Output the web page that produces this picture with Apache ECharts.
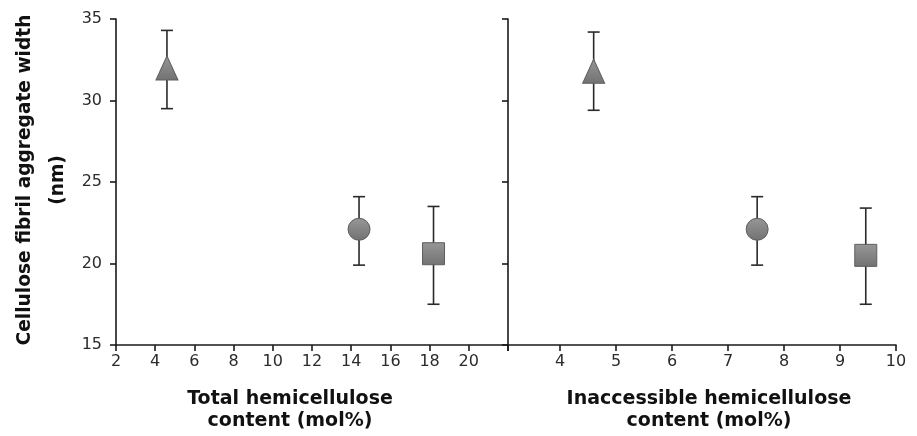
<!DOCTYPE html>
<html>
<head>
<meta charset="utf-8">
<script src="https://cdn.jsdelivr.net/npm/echarts@6/dist/echarts.min.js"></script>
<style>html,body{margin:0;padding:0;background:#fff}#c{width:917px;height:436px}</style>
</head>
<body>
<div id="c"></div>
<script>
// Data
var symbols = ['triangle', 'circle', 'rect'];
var xTotal = [4.6, 14.4, 18.2];
var yTotal = [32.0, 22.1, 20.6];
var lowTotal = [29.5, 19.9, 17.5];
var highTotal = [34.3, 24.1, 23.5];
var xInacc = [4.6, 7.52, 9.46];
var yInacc = [31.8, 22.1, 20.5];
var lowInacc = [29.4, 19.9, 17.5];
var highInacc = [34.2, 24.1, 23.4];
var yTicks = [15, 20, 25, 30, 35];
var xTicksInacc = [4, 5, 6, 7, 8, 9, 10];

var FONT = 'DejaVu Sans, Verdana, sans-serif';
var axisCol = '#1a1a1a';
var symSizes = {triangle: [22, 24], circle: 22, rect: 22};

function pts(xs, ys) {
  return xs.map(function (x, i) {
    return {value: [x, ys[i]], symbol: symbols[i], symbolSize: symSizes[symbols[i]]};
  });
}
function errData(xs, lo, hi) {
  return xs.map(function (x, i) { return [x, lo[i], hi[i]]; });
}
function errRender(params, api) {
  var x = api.value(0);
  var p1 = api.coord([x, api.value(1)]);
  var p2 = api.coord([x, api.value(2)]);
  var w = 6;
  var st = {stroke: '#2a2a2a', lineWidth: 1.6};
  return {
    type: 'group',
    children: [
      {type: 'line', shape: {x1: p1[0], y1: p1[1], x2: p2[0], y2: p2[1]}, style: st},
      {type: 'line', shape: {x1: p1[0] - w, y1: p1[1], x2: p1[0] + w, y2: p1[1]}, style: st},
      {type: 'line', shape: {x1: p2[0] - w, y1: p2[1], x2: p2[0] + w, y2: p2[1]}, style: st}
    ]
  };
}
var markerStyle = {
  color: {type: 'linear', x: 0, y: 0, x2: 0, y2: 1,
    colorStops: [{offset: 0, color: '#979797'}, {offset: 1, color: '#727272'}]},
  borderColor: '#5e5e5e',
  borderWidth: 1,
  opacity: 1
};
var axisLineCfg = {show: true, onZero: false, lineStyle: {color: axisCol, width: 1.6}};
var tickCfg = {show: true, inside: false, length: 6, lineStyle: {color: axisCol, width: 1.6}};
var labelStyle = {color: '#2b2b2b', fontSize: 16, fontFamily: FONT};
var nameStyle = {color: '#111', fontSize: 19, fontWeight: 'bold', fontFamily: FONT, lineHeight: 22};

var option = {
  animation: false,
  backgroundColor: '#fff',
  grid: [
    {left: 116, width: 392, top: 19, height: 326, outerBoundsMode: 'none', containLabel: false},
    {left: 508, width: 388, top: 19, height: 326, outerBoundsMode: 'none', containLabel: false}
  ],
  xAxis: [
    {
      gridIndex: 0, type: 'value', min: 2, max: 22, interval: 2,
      axisLine: axisLineCfg, axisTick: tickCfg, splitLine: {show: false},
      axisLabel: Object.assign({margin: 9, formatter: function (v) { return v === 22 ? '' : String(v); }}, labelStyle),
      name: 'Total hemicellulose\ncontent (mol%)', nameLocation: 'middle', nameGap: 43,
      nameTextStyle: Object.assign({padding: [0, 44, 0, 0]}, nameStyle)
    },
    {
      gridIndex: 1, type: 'value', min: 3.07, max: 10,
      axisLine: axisLineCfg,
      axisTick: Object.assign({customValues: [3.07].concat(xTicksInacc)}, tickCfg),
      splitLine: {show: false},
      axisLabel: Object.assign({margin: 9, customValues: xTicksInacc}, labelStyle),
      name: 'Inaccessible hemicellulose\ncontent (mol%)', nameLocation: 'middle', nameGap: 43,
      nameTextStyle: Object.assign({padding: [0, 0, 0, 14]}, nameStyle)
    }
  ],
  yAxis: [
    {
      gridIndex: 0, type: 'value', min: 15, max: 35, interval: 5,
      axisLine: axisLineCfg, axisTick: tickCfg, splitLine: {show: false},
      axisLabel: Object.assign({margin: 14}, labelStyle),
      name: 'Cellulose fibril aggregate width\n(nm)', nameLocation: 'middle', nameGap: 41,
      nameTextStyle: Object.assign({}, nameStyle, {fontSize: 18.6, lineHeight: 33, padding: [0, 0, 0, 4]})
    },
    {
      gridIndex: 1, type: 'value', min: 15, max: 35, interval: 5,
      axisLine: axisLineCfg, axisTick: tickCfg, splitLine: {show: false},
      axisLabel: {show: false}
    }
  ],
  series: [
    {type: 'custom', xAxisIndex: 0, yAxisIndex: 0, z: 2, renderItem: errRender,
      data: errData(xTotal, lowTotal, highTotal), encode: {x: 0, y: [1, 2]}},
    {type: 'custom', xAxisIndex: 1, yAxisIndex: 1, z: 2, renderItem: errRender,
      data: errData(xInacc, lowInacc, highInacc), encode: {x: 0, y: [1, 2]}},
    {type: 'scatter', xAxisIndex: 0, yAxisIndex: 0, z: 3, itemStyle: markerStyle,
      data: pts(xTotal, yTotal)},
    {type: 'scatter', xAxisIndex: 1, yAxisIndex: 1, z: 3, itemStyle: markerStyle,
      data: pts(xInacc, yInacc)}
  ]
};
var chart = echarts.init(document.getElementById('c'), null, {renderer: 'canvas'});
chart.setOption(option);
</script>
</body>
</html>
